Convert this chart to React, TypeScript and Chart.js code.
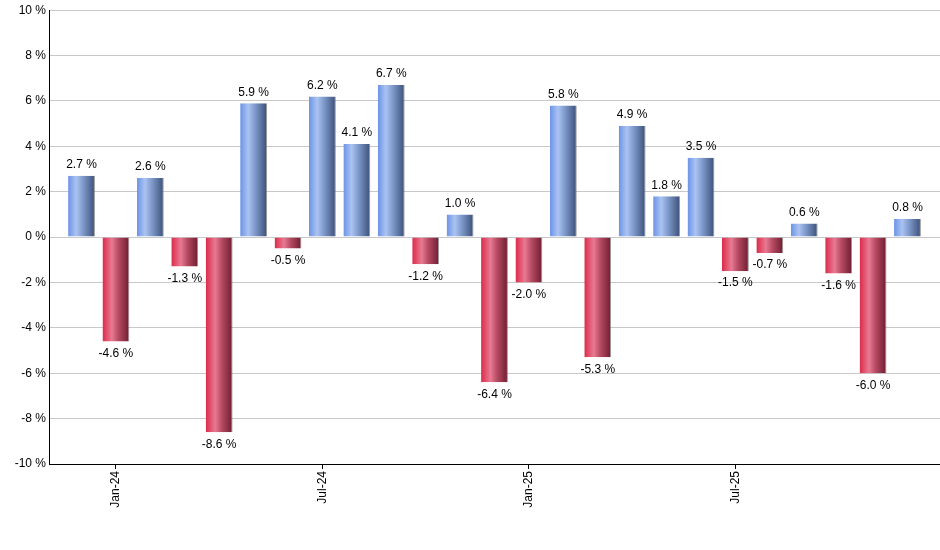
import { useEffect, useRef } from "react";
import { Chart, registerables } from "chart.js";

Chart.register(...registerables);

/* Monthly returns, Dec-23 .. Dec-25 */
const MONTHS = [
  "Dec-23", "Jan-24", "Feb-24", "Mar-24", "Apr-24", "May-24", "Jun-24",
  "Jul-24", "Aug-24", "Sep-24", "Oct-24", "Nov-24", "Dec-24",
  "Jan-25", "Feb-25", "Mar-25", "Apr-25", "May-25", "Jun-25",
  "Jul-25", "Aug-25", "Sep-25", "Oct-25", "Nov-25", "Dec-25",
];
const RETURNS = [
  2.7, -4.6, 2.6, -1.3, -8.6, 5.9, -0.5,
  6.2, 4.1, 6.7, -1.2, 1.0, -6.4,
  -2.0, 5.8, -5.3, 4.9, 1.8, 3.5,
  -1.5, -0.7, 0.6, -1.6, -6.0, 0.8,
];
const X_TICKS = [1, 7, 13, 19];

const FONT = '"Liberation Sans", Arial, sans-serif';

const BLUE_STOPS: [number, string][] = [
  [0, "#6b93e6"], [0.3, "#aac3f2"], [0.55, "#7f9bcc"], [1, "#3b4f78"],
];
const RED_STOPS: [number, string][] = [
  [0, "#dc2a4a"], [0.35, "#e87a92"], [0.6, "#b54a62"], [1, "#6e1c30"],
];

function barFill(c: any) {
  const v = RETURNS[c.dataIndex] ?? 0;
  const stops = v >= 0 ? BLUE_STOPS : RED_STOPS;
  const x = c.chart.scales?.x;
  if (!x || c.type !== "data") return stops[0][1];
  const cx = x.getPixelForValue(c.dataIndex);
  const half = ((x.getPixelForValue(1) - x.getPixelForValue(0)) * 0.78) / 2;
  if (!isFinite(cx) || !isFinite(half)) return stops[0][1];
  const g = c.chart.ctx.createLinearGradient(cx - half, 0, cx + half, 0);
  stops.forEach(([o, col]) => g.addColorStop(o, col));
  return g;
}

const valueLabels = {
  id: "valueLabels",
  afterDatasetsDraw(chart: any) {
    const { ctx } = chart;
    const meta = chart.getDatasetMeta(0);
    ctx.save();
    ctx.font = `12px ${FONT}`;
    ctx.fillStyle = "#000";
    ctx.textAlign = "center";
    meta.data.forEach((el: any, i: number) => {
      const v = RETURNS[i];
      const txt = `${v.toFixed(1)} %`;
      if (v >= 0) {
        ctx.textBaseline = "bottom";
        ctx.fillText(txt, el.x, el.y - 5);
      } else {
        ctx.textBaseline = "top";
        ctx.fillText(txt, el.x, el.y + 6);
      }
    });
    ctx.restore();
  },
};

export default function App() {
  const canvasRef = useRef<HTMLCanvasElement>(null);
  const chartRef = useRef<Chart | null>(null);

  useEffect(() => {
    if (!canvasRef.current) return;
    chartRef.current?.destroy();

    chartRef.current = new Chart(canvasRef.current, {
      type: "bar",
      data: {
        datasets: [
          {
            data: RETURNS.map((v, i) => ({ x: i, y: v })),
            backgroundColor: barFill,
            borderColor: "rgba(110,110,110,0.7)",
            borderWidth: { top: 0, left: 0, bottom: 0, right: 1 },
            borderSkipped: false,
            categoryPercentage: 1,
            barPercentage: 0.78,
          } as any,
        ],
      },
      options: {
        animation: false,
        responsive: true,
        maintainAspectRatio: false,
        layout: { padding: { top: 9, right: 0, bottom: 0, left: 0 } },
        plugins: {
          legend: { display: false },
          tooltip: { enabled: false },
        },
        scales: {
          x: {
            type: "linear",
            min: -0.945,
            max: 24.945,
            offset: false,
            afterBuildTicks: (s: any) => {
              s.ticks = X_TICKS.map((v) => ({ value: v }));
            },
            afterFit: (s: any) => {
              s.height = 86;
            },
            ticks: {
              color: "#000",
              font: { family: FONT, size: 12 },
              minRotation: 90,
              maxRotation: 90,
              padding: 2,
              autoSkip: false,
              callback: (v: any) => MONTHS[Number(v)] ?? "",
            },
            grid: {
              display: true,
              offset: false,
              drawOnChartArea: false,
              drawTicks: true,
              tickLength: 5,
              color: "#000",
            },
            border: { display: true, color: "#000", width: 1 },
          },
          y: {
            min: -10,
            max: 10,
            afterFit: (s: any) => {
              s.width = 49;
            },
            ticks: {
              stepSize: 2,
              color: "#000",
              padding: 3,
              font: { family: FONT, size: 12 },
              callback: (v: any) => `${v} %`,
            },
            grid: { color: "#c8c8c8", drawTicks: false },
            border: { display: true, color: "#000", width: 1 },
          },
        },
      },
      plugins: [valueLabels],
    });

    return () => {
      chartRef.current?.destroy();
      chartRef.current = null;
    };
  }, []);

  return (
    <div style={{ position: "fixed", left: 0, top: 0, width: 940, height: 550, background: "#fff" }}>
      <canvas ref={canvasRef} />
    </div>
  );
}
